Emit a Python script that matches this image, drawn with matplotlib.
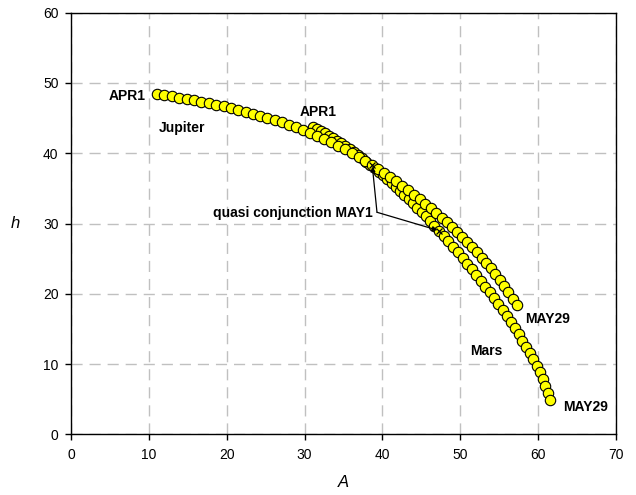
import matplotlib
matplotlib.use('Agg')
import matplotlib.pyplot as plt

plt.rcParams['font.family'] = ['Liberation Sans', 'DejaVu Sans']

# azimuth A / altitude h, one point per day APR1 .. MAY29
jupiter_A = [11.00, 11.96, 12.92, 13.88, 14.84, 15.80, 16.75, 17.70, 18.65, 19.60,
             20.55, 21.49, 22.43, 23.37, 24.30, 25.23, 26.16, 27.08, 28.00, 28.92,
             29.83, 30.74, 31.64, 32.54, 33.43, 34.32, 35.20, 36.08, 36.95, 37.82,
             38.69, 39.48, 40.26, 41.03, 41.79, 42.55, 43.30, 44.04, 44.77, 45.49,
             46.20, 46.90, 47.59, 48.27, 48.94, 49.60, 50.25, 50.89, 51.52, 52.14,
             52.75, 53.35, 53.94, 54.52, 55.09, 55.65, 56.19, 56.72, 57.24]
jupiter_h = [48.40, 48.25, 48.09, 47.92, 47.74, 47.55, 47.35, 47.14, 46.92, 46.68,
             46.43, 46.17, 45.90, 45.62, 45.33, 45.03, 44.71, 44.38, 44.04, 43.68,
             43.30, 42.90, 42.48, 42.04, 41.58, 41.10, 40.60, 40.07, 39.51, 38.92,
             38.30, 37.74, 37.16, 36.57, 35.98, 35.37, 34.75, 34.12, 33.48, 32.84,
             32.19, 31.52, 30.85, 30.17, 29.48, 28.78, 28.07, 27.35, 26.63, 25.89,
             25.14, 24.38, 23.61, 22.82, 22.02, 21.15, 20.25, 19.32, 18.35]

mars_A = [31.10, 31.61, 32.12, 32.64, 33.15, 33.67, 34.20, 34.72, 35.25, 35.78,
          36.31, 36.85, 37.38, 37.92, 38.46, 39.00, 39.54, 40.08, 40.63, 41.17,
          41.72, 42.27, 42.82, 43.37, 43.92, 44.47, 45.02, 45.57, 46.12, 46.67,
          47.23, 47.85, 48.47, 49.08, 49.69, 50.30, 50.90, 51.49, 52.07, 52.65,
          53.21, 53.77, 54.32, 54.88, 55.42, 55.95, 56.48, 57.00, 57.50, 57.98,
          58.47, 58.92, 59.37, 59.82, 60.22, 60.61, 60.91, 61.20, 61.50]
mars_h = [43.80, 43.50, 43.18, 42.85, 42.51, 42.15, 41.78, 41.40, 41.00, 40.59,
          40.17, 39.73, 39.28, 38.82, 38.35, 37.86, 37.36, 36.85, 36.32, 35.78,
          35.23, 34.66, 34.08, 33.49, 32.89, 32.27, 31.64, 31.00, 30.34, 29.68,
          29.00, 28.22, 27.45, 26.67, 25.88, 25.09, 24.30, 23.49, 22.68, 21.86,
          21.03, 20.20, 19.36, 18.53, 17.68, 16.82, 15.97, 15.12, 14.24, 13.35,
          12.46, 11.56, 10.65, 9.74, 8.80, 7.85, 6.87, 5.88, 4.90]

may1 = 30  # index of MAY1

fig = plt.figure(figsize=(6.36, 4.95), dpi=100)
ax = fig.add_axes([0.1116, 0.1226, 0.857, 0.8517])

ax.plot(mars_A, mars_h, 'o', ls='none', ms=7.5, mfc='#FFFF00', mec='black', mew=0.8, zorder=3)
ax.plot(jupiter_A, jupiter_h, 'o', ls='none', ms=7.5, mfc='#FFFF00', mec='black', mew=0.8, zorder=3)

conj_A = [jupiter_A[may1], mars_A[may1]]
conj_h = [jupiter_h[may1], mars_h[may1]]
ax.plot(conj_A, conj_h, 'x', ls='none', ms=5, color='black', mew=0.9, zorder=4)

bold = dict(fontsize=10, fontweight='bold', va='center')
ax.text(9.6, 48.2, 'APR1', ha='right', **bold)
ax.text(29.4, 45.9, 'APR1', ha='left', **bold)
ax.text(11.3, 43.6, 'Jupiter', ha='left', **bold)
ax.text(58.3, 16.4, 'MAY29', ha='left', **bold)
ax.text(51.2, 11.9, 'Mars', ha='left', **bold)
ax.text(63.2, 3.9, 'MAY29', ha='left', **bold)
ax.text(38.8, 31.5, 'quasi conjunction MAY1', ha='right', **bold)

for a, h in zip(conj_A, conj_h):
    ax.annotate('', xy=(a, h), xytext=(39.3, 31.6),
                arrowprops=dict(arrowstyle='-|>', color='black', lw=0.9,
                                mutation_scale=7, shrinkA=0, shrinkB=1),
                zorder=5)

ax.set_xlim(0, 70)
ax.set_ylim(0, 60)
ax.set_xticks(range(0, 71, 10))
ax.set_yticks(range(0, 61, 10))
ax.grid(True, color='#C0C0C0', ls=(0, (8, 5)), lw=1)
ax.set_axisbelow(True)
ax.tick_params(direction='out', length=4, width=1, labelsize=10, top=False, right=False)
ax.tick_params(axis='x', pad=6)
ax.tick_params(axis='y', pad=5)
for s in ax.spines.values():
    s.set_linewidth(1)

ax.set_xlabel('A', fontsize=12, style='italic', labelpad=9)
ax.set_ylabel('h', fontsize=12, style='italic', rotation=0, labelpad=20, va='center')

fig.savefig('out.png', dpi=100)
